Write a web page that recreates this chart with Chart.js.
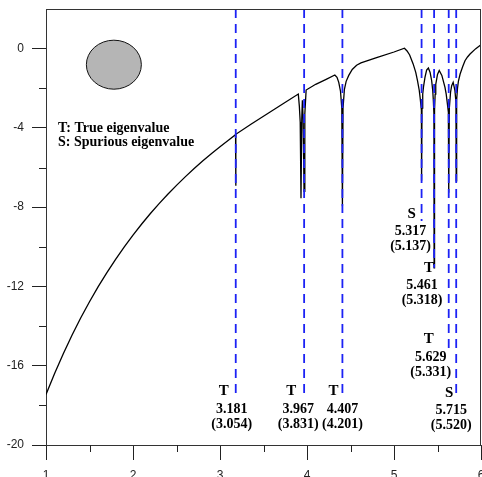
<!DOCTYPE html>
<html>
<head>
<meta charset="utf-8">
<script src="https://cdn.jsdelivr.net/npm/chart.js@4/dist/chart.umd.min.js"></script>
<style>
  html, body { margin: 0; padding: 0; background: #fff; }
  canvas { display: block; }
</style>
</head>
<body>
<canvas id="c" width="482" height="477"></canvas>
<script>
// Kurve (x = Frequenzparameter, y = Determinante log)
const curveX = [
  1.00, 1.10, 1.20, 1.30, 1.40, 1.50, 1.60, 1.70, 1.80, 1.90, 2.00, 2.10, 2.20, 2.30, 2.40,
  2.50, 2.60, 2.70, 2.80, 2.90, 3.00, 3.10,
  3.179, 3.181, 3.183,
  3.36, 3.54, 3.72, 3.90,
  3.912, 3.922, 3.931, 3.940, 3.947, 3.956, 3.966, 3.975, 3.99,
  4.10, 4.22, 4.32, 4.345, 4.365, 4.385, 4.400, 4.407, 4.414, 4.43, 4.45, 4.48, 4.52, 4.57, 4.62,
  4.80, 5.00, 5.12, 5.15, 5.18, 5.22, 5.25, 5.27, 5.29, 5.30, 5.315, 5.317, 5.322, 5.33, 5.34,
  5.356, 5.375, 5.395, 5.415, 5.433, 5.445, 5.452, 5.459, 5.461, 5.466, 5.473, 5.48,
  5.50, 5.52, 5.55, 5.586, 5.600, 5.610, 5.625, 5.629, 5.636, 5.65, 5.663,
  5.68, 5.70, 5.712, 5.715, 5.72, 5.73, 5.74, 5.76, 5.79, 5.816, 5.845, 5.874, 5.94, 6.00
];
const curveY = [
  -17.45, -16.38, -15.38, -14.45, -13.58, -12.77, -12.01, -11.30, -10.63, -10.00, -9.41, -8.85, -8.32, -7.82, -7.35,
  -6.90, -6.47, -6.06, -5.67, -5.30, -4.95, -4.61,
  -4.34, -6.92, -4.32,
  -3.80, -3.30, -2.79, -2.29,
  -2.9, -3.7, -7.55, -3.5, -2.6, -3.6, -7.2, -3.3, -2.09,
  -1.80, -1.55, -1.33, -1.45, -1.70, -2.15, -3.0, -7.95, -3.0, -2.05, -1.65, -1.35, -1.05, -0.84, -0.72,
  -0.45, -0.17, 0.02, -0.12, -0.32, -0.77, -1.20, -1.62, -2.10, -2.46, -3.1, -6.67, -3.0, -2.3, -1.90,
  -1.45, -1.08, -0.98, -1.2, -1.62, -2.1, -2.6, -3.3, -11.06, -3.1, -2.3, -1.8,
  -1.30, -1.10, -1.35, -1.95, -2.3, -2.65, -3.2, -7.27, -3.0, -2.2, -1.87,
  -1.70, -2.1, -2.7, -6.67, -2.6, -2.0, -1.65, -1.28, -0.90, -0.61, -0.42, -0.27, 0.0, 0.2
];

// Eigenwerte (gestrichelte Linien)
const eigX     = [3.181, 3.967, 4.407, 5.317, 5.461, 5.629, 5.715];
const eigEnd   = [-17.5, -17.5, -17.5, -8.7, -11.05, -15.15, -17.5];
const eigKind  = ['T', 'T', 'T', 'S', 'T', 'T', 'S'];
const eigText  = ['3.181', '3.967', '4.407', '5.317', '5.461', '5.629', '5.715'];
const eigRef   = ['(3.054)', '(3.831)', '(4.201)', '(5.137)', '(5.318)', '(5.331)', '(5.520)'];

// Achsen
const xTickValues = [1, 2, 3, 4, 5, 6];
const xMinorValues = [1.5, 2.5, 3.5, 4.5, 5.5];
const yTickValues = [-20, -16, -12, -8, -4, 0];
const yMinorValues = [-18, -14, -10, -6, -2];

const legendLines = ['T: True eigenvalue', 'S: Spurious eigenvalue'];

// Label-Offsets (px) relativ zur Linie: [Buchstabe dx, Zahlen dx, Buchstabe y-Wert]
const labelLayout = [
  [-12, -4, -17.27],
  [-13, -6, -17.27],
  [-9, 0, -17.27],
  [-10, -11, -8.33],
  [-5, -12, -11.06],
  [-20, -18, -14.65],
  [-7, -5, -17.37]
];

const AXIS = '#222';

const decorPlugin = {
  id: 'decor',
  afterDraw(chart) {
    const { ctx, chartArea: a, scales: { x, y } } = chart;
    ctx.save();

    // Rahmen oben und rechts
    ctx.strokeStyle = '#333';
    ctx.lineWidth = 1;
    ctx.beginPath();
    ctx.moveTo(a.left, Math.round(a.top) + 0.5);
    ctx.lineTo(a.right, Math.round(a.top) + 0.5);
    ctx.moveTo(Math.round(a.right) - 0.5, a.top);
    ctx.lineTo(Math.round(a.right) - 0.5, a.bottom);
    ctx.stroke();

    // Minor ticks
    ctx.strokeStyle = AXIS;
    ctx.beginPath();
    xMinorValues.forEach(v => {
      const px = Math.round(x.getPixelForValue(v)) + 0.5;
      ctx.moveTo(px, a.bottom);
      ctx.lineTo(px, a.bottom + 7);
    });
    yMinorValues.forEach(v => {
      const py = Math.round(y.getPixelForValue(v)) + 0.5;
      ctx.moveTo(a.left - 7, py);
      ctx.lineTo(a.left, py);
    });
    ctx.stroke();

    // Kreis (Querschnitt)
    ctx.beginPath();
    ctx.ellipse(x.getPixelForValue(1.78), y.getPixelForValue(-0.81), 27.5, 24.5, 0, 0, Math.PI * 2);
    ctx.fillStyle = '#b5b5b5';
    ctx.fill();
    ctx.strokeStyle = '#111';
    ctx.lineWidth = 1;
    ctx.stroke();

    // Legende
    ctx.fillStyle = '#000';
    ctx.font = 'bold 14px "Liberation Serif"';
    ctx.textAlign = 'left';
    ctx.textBaseline = 'middle';
    legendLines.forEach((t, i) => ctx.fillText(t, a.left + 12, 128 + i * 14));

    // Eigenwert-Beschriftungen
    ctx.textAlign = 'center';
    eigX.forEach((v, i) => {
      const [dl, dn, ly] = labelLayout[i];
      const px = x.getPixelForValue(v);
      const py = y.getPixelForValue(ly);
      ctx.font = 'bold 15px "Liberation Serif"';
      ctx.fillText(eigKind[i], px + dl, py);
      ctx.font = 'bold 14px "Liberation Serif"';
      ctx.fillText(eigText[i], px + dn, py + 18);
      ctx.fillText(eigRef[i], px + dn, py + 33);
    });

    ctx.restore();
  }
};

const datasets = [{
  data: curveX.map((v, i) => ({ x: v, y: curveY[i] })),
  borderColor: '#000',
  borderWidth: 1.3,
  pointRadius: 0,
  tension: 0,
  fill: false,
  order: 2
}];

eigX.forEach((v, i) => {
  datasets.push({
    data: [{ x: v, y: 2 }, { x: v, y: eigEnd[i] }],
    borderColor: '#1c22f5',
    borderWidth: 1.8,
    borderDash: [9, 6],
    pointRadius: 0,
    fill: false,
    order: 1
  });
});

new Chart(document.getElementById('c'), {
  type: 'line',
  data: { datasets },
  plugins: [decorPlugin],
  options: {
    responsive: false,
    animation: false,
    layout: { padding: { top: 9, right: 1, left: 0, bottom: 0 } },
    plugins: { legend: { display: false }, tooltip: { enabled: false } },
    scales: {
      x: {
        type: 'linear',
        min: 1,
        max: 6,
        afterBuildTicks: s => { s.ticks = xTickValues.map(v => ({ value: v })); },
        afterFit: s => { s.height = 32; s.paddingLeft = 0; s.paddingRight = 0; },
        ticks: {
          autoSkip: false,
          maxRotation: 0,
          padding: 8,
          color: AXIS,
          font: { family: 'Liberation Sans', size: 12 }
        },
        grid: { drawOnChartArea: false, tickLength: 15, tickColor: AXIS, tickWidth: 1 },
        border: { color: '#333', width: 1 }
      },
      y: {
        type: 'linear',
        min: -20,
        max: 2,
        afterBuildTicks: s => { s.ticks = yTickValues.map(v => ({ value: v })); },
        afterFit: s => { s.width = 46; s.paddingTop = 0; s.paddingBottom = 0; },
        ticks: {
          autoSkip: false,
          padding: 8,
          color: AXIS,
          font: { family: 'Liberation Sans', size: 12 }
        },
        grid: { drawOnChartArea: false, tickLength: 14, tickColor: AXIS, tickWidth: 1 },
        border: { color: '#333', width: 1 }
      }
    }
  }
});
</script>
</body>
</html>
